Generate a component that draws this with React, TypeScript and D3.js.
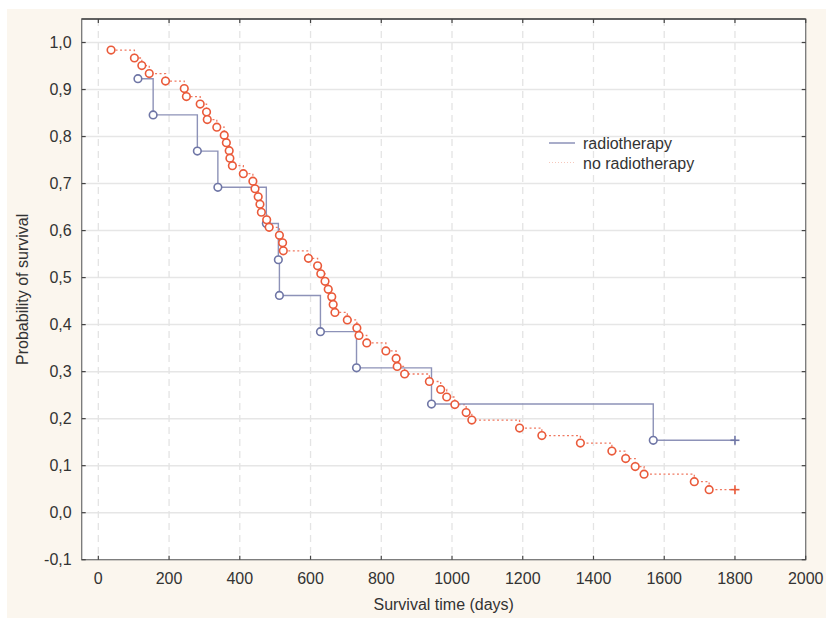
import React, { useEffect, useRef } from "react";
import * as d3 from "d3";

// radiotherapy group: event times (days) and cumulative survival
const radioDays = [112, 155, 280, 338, 475, 509, 512, 628, 730, 942, 1569];
const radioSurv = [0.923, 0.846, 0.769, 0.692, 0.615, 0.538, 0.462, 0.385, 0.308, 0.231, 0.154];
const radioCensored = [1800];

// no radiotherapy group
const noRadioDays = [
  36, 102, 123, 144, 190, 243, 249, 288, 306, 308, 335, 356, 362, 370, 372, 379,
  410, 437, 443, 452, 457, 461, 476, 483, 512, 521, 523, 594, 620, 629, 641, 650,
  660, 664, 669, 704, 731, 737, 759, 813, 842, 845, 866, 936, 968, 985, 1008, 1040,
  1056, 1191, 1254, 1363, 1452, 1491, 1518, 1543, 1685, 1727,
];
const noRadioSurv = [
  0.984, 0.967, 0.951, 0.934, 0.918, 0.902, 0.885, 0.869, 0.852, 0.836, 0.82, 0.803,
  0.787, 0.77, 0.754, 0.738, 0.721, 0.705, 0.689, 0.672, 0.656, 0.639, 0.623, 0.607,
  0.59, 0.574, 0.557, 0.541, 0.525, 0.508, 0.492, 0.475, 0.459, 0.443, 0.426, 0.41,
  0.393, 0.377, 0.361, 0.344, 0.328, 0.311, 0.295, 0.279, 0.262, 0.246, 0.23, 0.213,
  0.197, 0.18, 0.164, 0.148, 0.131, 0.115, 0.098, 0.082, 0.066, 0.049,
];
const noRadioCensored = [1800];

const xTicks = [0, 200, 400, 600, 800, 1000, 1200, 1400, 1600, 1800, 2000];
const yTicks = [-0.1, 0, 0.1, 0.2, 0.3, 0.4, 0.5, 0.6, 0.7, 0.8, 0.9, 1.0];

const seriesNames = ["radiotherapy", "no radiotherapy"];

const BLUE_LINE = "#8d92b8";
const BLUE_MARK = "#6f76a6";
const RED_LINE = "#f07a62";
const RED_MARK = "#ea5a3a";
const FONT = "'Liberation Sans', Arial, sans-serif";

const App: React.FC = () => {
  const svgRef = useRef<SVGSVGElement | null>(null);

  useEffect(() => {
    if (!svgRef.current) return;
    const svg = d3.select(svgRef.current);
    svg.selectAll("*").remove();

    const width = 826;
    const height = 618;
    const plot = { left: 81.7, right: 805.7, top: 19, bottom: 559.7 };

    svg.append("rect").attr("x", 7).attr("y", 9).attr("width", width - 7).attr("height", height - 9).attr("fill", "#fbf6ee");

    const x = d3.scaleLinear().domain([-47, 2000]).range([plot.left, plot.right]);
    const y = d3.scaleLinear().domain([-0.1, 1.05]).range([plot.bottom, plot.top]);

    svg
      .append("rect")
      .attr("x", plot.left)
      .attr("y", plot.top)
      .attr("width", plot.right - plot.left)
      .attr("height", plot.bottom - plot.top)
      .attr("fill", "#ffffff");

    // grid
    svg
      .append("g")
      .selectAll("line")
      .data(yTicks.slice(1))
      .enter()
      .append("line")
      .attr("x1", plot.left)
      .attr("x2", plot.right)
      .attr("y1", (d) => y(d))
      .attr("y2", (d) => y(d))
      .attr("stroke", "#e6e6e6")
      .attr("stroke-width", 1.5);

    svg
      .append("g")
      .selectAll("line")
      .data(xTicks.slice(0, -1))
      .enter()
      .append("line")
      .attr("x1", (d) => x(d))
      .attr("x2", (d) => x(d))
      .attr("y1", plot.top)
      .attr("y2", plot.bottom)
      .attr("stroke", "#e4e4e4")
      .attr("stroke-width", 1.3)
      .attr("stroke-dasharray", "7,5");

    // frame
    svg
      .append("rect")
      .attr("x", plot.left)
      .attr("y", plot.top)
      .attr("width", plot.right - plot.left)
      .attr("height", plot.bottom - plot.top)
      .attr("fill", "none")
      .attr("stroke", "#777")
      .attr("stroke-width", 1.3);
    svg
      .append("line")
      .attr("x1", plot.left)
      .attr("x2", plot.right)
      .attr("y1", plot.top)
      .attr("y2", plot.top)
      .attr("stroke", "#4a4a4a")
      .attr("stroke-width", 1.5);

    // inward ticks on all sides
    const ticks = svg.append("g").attr("stroke", "#444").attr("stroke-width", 1.2);
    xTicks.forEach((t) => {
      ticks.append("line").attr("x1", x(t)).attr("x2", x(t)).attr("y1", plot.bottom).attr("y2", plot.bottom - 4);
      ticks.append("line").attr("x1", x(t)).attr("x2", x(t)).attr("y1", plot.top).attr("y2", plot.top + 4);
    });
    yTicks.forEach((t) => {
      ticks.append("line").attr("x1", plot.left).attr("x2", plot.left + 4).attr("y1", y(t)).attr("y2", y(t));
      ticks.append("line").attr("x1", plot.right).attr("x2", plot.right - 4).attr("y1", y(t)).attr("y2", y(t));
    });

    // tick labels
    const fmtY = (d: number) => d3.format(".1f")(d).replace(".", ",").replace("−", "-");
    svg
      .append("g")
      .selectAll("text")
      .data(yTicks)
      .enter()
      .append("text")
      .attr("x", plot.left - 10)
      .attr("y", (d) => y(d) + 5.5)
      .attr("text-anchor", "end")
      .attr("font-family", FONT)
      .attr("font-size", 16)
      .attr("fill", "#333")
      .text(fmtY);

    svg
      .append("g")
      .selectAll("text")
      .data(xTicks)
      .enter()
      .append("text")
      .attr("x", (d) => x(d))
      .attr("y", plot.bottom + 24.5)
      .attr("text-anchor", "middle")
      .attr("font-family", FONT)
      .attr("font-size", 16)
      .attr("fill", "#333")
      .text((d) => String(d));

    // axis titles
    svg
      .append("text")
      .attr("x", (plot.left + plot.right) / 2)
      .attr("y", 610)
      .attr("text-anchor", "middle")
      .attr("font-family", FONT)
      .attr("font-size", 16)
      .attr("fill", "#333")
      .text("Survival time (days)");
    svg
      .append("text")
      .attr("transform", `translate(28, ${(plot.top + plot.bottom) / 2}) rotate(-90)`)
      .attr("text-anchor", "middle")
      .attr("font-family", FONT)
      .attr("font-size", 16)
      .attr("fill", "#333")
      .text("Probability of survival");

    const stepLine = d3
      .line<[number, number]>()
      .x((d) => x(d[0]))
      .y((d) => y(d[1]))
      .curve(d3.curveStepAfter);

    // no radiotherapy (dotted red)
    const noRadioPts: [number, number][] = noRadioDays.map((t, i) => [t, noRadioSurv[i]]);
    const noRadioLast = noRadioSurv[noRadioSurv.length - 1];
    svg
      .append("path")
      .attr("d", stepLine([...noRadioPts, [noRadioCensored[0], noRadioLast]]))
      .attr("fill", "none")
      .attr("stroke", RED_LINE)
      .attr("stroke-width", 1.3)
      .attr("stroke-dasharray", "2,2.5");

    // radiotherapy (solid blue)
    const radioPts: [number, number][] = radioDays.map((t, i) => [t, radioSurv[i]]);
    const radioLast = radioSurv[radioSurv.length - 1];
    svg
      .append("path")
      .attr("d", stepLine([...radioPts, [radioCensored[0], radioLast]]))
      .attr("fill", "none")
      .attr("stroke", BLUE_LINE)
      .attr("stroke-width", 1.4);

    svg
      .append("g")
      .selectAll("circle")
      .data(radioPts)
      .enter()
      .append("circle")
      .attr("cx", (d) => x(d[0]))
      .attr("cy", (d) => y(d[1]))
      .attr("r", 3.8)
      .attr("fill", "#fff")
      .attr("stroke", BLUE_MARK)
      .attr("stroke-width", 1.6);

    svg
      .append("g")
      .selectAll("circle")
      .data(noRadioPts)
      .enter()
      .append("circle")
      .attr("cx", (d) => x(d[0]))
      .attr("cy", (d) => y(d[1]))
      .attr("r", 3.8)
      .attr("fill", "#fff")
      .attr("stroke", RED_MARK)
      .attr("stroke-width", 1.6);

    // censored markers
    const plus = (cx: number, cy: number, color: string) => {
      const g = svg.append("g").attr("stroke", color).attr("stroke-width", 1.6);
      g.append("line").attr("x1", cx - 4.5).attr("x2", cx + 4.5).attr("y1", cy).attr("y2", cy);
      g.append("line").attr("x1", cx).attr("x2", cx).attr("y1", cy - 4.5).attr("y2", cy + 4.5);
    };
    radioCensored.forEach((t) => plus(x(t), y(radioLast), BLUE_MARK));
    noRadioCensored.forEach((t) => plus(x(t), y(noRadioLast), RED_MARK));

    // legend
    const legend = svg.append("g").attr("transform", "translate(549, 143)");
    legend.append("line").attr("x1", 0).attr("x2", 26).attr("y1", 0).attr("y2", 0).attr("stroke", BLUE_LINE).attr("stroke-width", 1.5);
    legend
      .append("line")
      .attr("x1", 0)
      .attr("x2", 26)
      .attr("y1", 19.5)
      .attr("y2", 19.5)
      .attr("stroke", "#f6c8bc")
      .attr("stroke-width", 1)
      .attr("stroke-dasharray", "1,2");
    seriesNames.forEach((name, i) => {
      legend
        .append("text")
        .attr("x", 34)
        .attr("y", 6 + i * 19.5)
        .attr("font-family", FONT)
        .attr("font-size", 16)
        .attr("fill", "#333")
        .text(name);
    });
  }, []);

  return (
    <svg
      ref={svgRef}
      width={826}
      height={618}
      style={{ position: "absolute", left: 0, top: 0, display: "block" }}
    ></svg>
  );
};

export default App;
